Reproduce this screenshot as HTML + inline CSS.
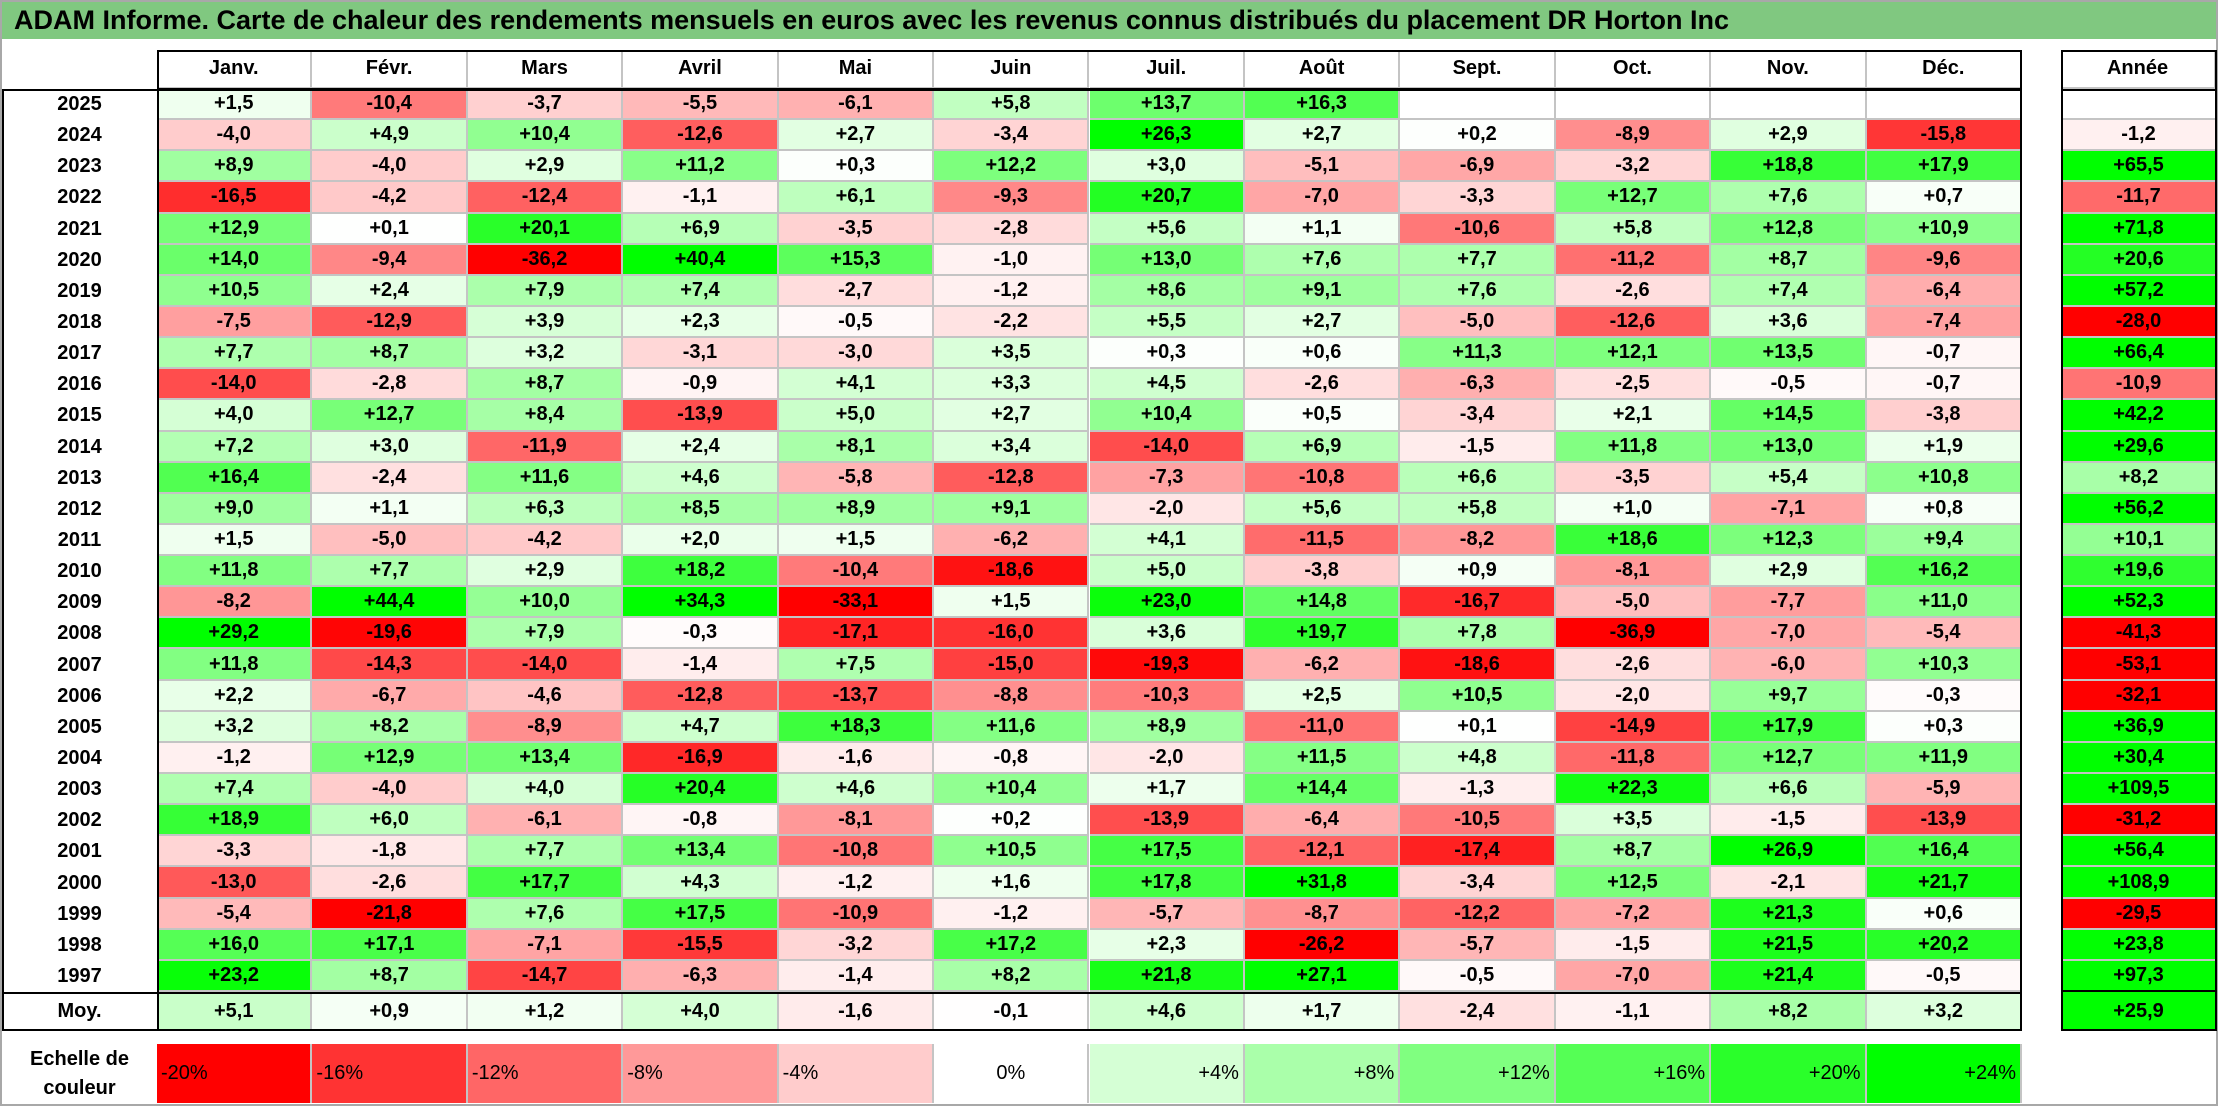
<!DOCTYPE html>
<html><head><meta charset="utf-8">
<style>
body{margin:0;background:#fff;}
#root{position:relative;width:2218px;height:1106px;overflow:hidden;background:#fff;font-family:"Liberation Sans",Arial,sans-serif;}
.c{position:absolute;box-sizing:border-box;display:flex;align-items:center;justify-content:center;font-weight:bold;font-size:20px;color:#000;border-right:2px solid #c4c4c4;border-bottom:2px solid #c4c4c4;}
.b{position:absolute;box-sizing:border-box;border:2px solid #000;pointer-events:none;}
</style></head><body>
<div id="root">
<div style="position:absolute;left:0;top:0;width:2218px;height:1106px;box-sizing:border-box;border:2px solid #a8a8a8;"></div>
<div style="position:absolute;left:2px;top:2px;width:2214px;height:37px;background:#80c880;display:flex;align-items:center;padding-left:12px;box-sizing:border-box;font-weight:bold;font-size:27px;white-space:nowrap;">ADAM Informe. Carte de chaleur des rendements mensuels en euros avec les revenus connus distribués du placement DR Horton Inc</div>
</div>
<script>
const months=["Janv.","Févr.","Mars","Avril","Mai","Juin","Juil.","Août","Sept.","Oct.","Nov.","Déc."];
const years=[2025,2024,2023,2022,2021,2020,2019,2018,2017,2016,2015,2014,2013,2012,2011,2010,2009,2008,2007,2006,2005,2004,2003,2002,2001,2000,1999,1998,1997];
const values=[
[1.5,-10.4,-3.7,-5.5,-6.1,5.8,13.7,16.3,null,null,null,null],
[-4.0,4.9,10.4,-12.6,2.7,-3.4,26.3,2.7,0.2,-8.9,2.9,-15.8],
[8.9,-4.0,2.9,11.2,0.3,12.2,3.0,-5.1,-6.9,-3.2,18.8,17.9],
[-16.5,-4.2,-12.4,-1.1,6.1,-9.3,20.7,-7.0,-3.3,12.7,7.6,0.7],
[12.9,0.1,20.1,6.9,-3.5,-2.8,5.6,1.1,-10.6,5.8,12.8,10.9],
[14.0,-9.4,-36.2,40.4,15.3,-1.0,13.0,7.6,7.7,-11.2,8.7,-9.6],
[10.5,2.4,7.9,7.4,-2.7,-1.2,8.6,9.1,7.6,-2.6,7.4,-6.4],
[-7.5,-12.9,3.9,2.3,-0.5,-2.2,5.5,2.7,-5.0,-12.6,3.6,-7.4],
[7.7,8.7,3.2,-3.1,-3.0,3.5,0.3,0.6,11.3,12.1,13.5,-0.7],
[-14.0,-2.8,8.7,-0.9,4.1,3.3,4.5,-2.6,-6.3,-2.5,-0.5,-0.7],
[4.0,12.7,8.4,-13.9,5.0,2.7,10.4,0.5,-3.4,2.1,14.5,-3.8],
[7.2,3.0,-11.9,2.4,8.1,3.4,-14.0,6.9,-1.5,11.8,13.0,1.9],
[16.4,-2.4,11.6,4.6,-5.8,-12.8,-7.3,-10.8,6.6,-3.5,5.4,10.8],
[9.0,1.1,6.3,8.5,8.9,9.1,-2.0,5.6,5.8,1.0,-7.1,0.8],
[1.5,-5.0,-4.2,2.0,1.5,-6.2,4.1,-11.5,-8.2,18.6,12.3,9.4],
[11.8,7.7,2.9,18.2,-10.4,-18.6,5.0,-3.8,0.9,-8.1,2.9,16.2],
[-8.2,44.4,10.0,34.3,-33.1,1.5,23.0,14.8,-16.7,-5.0,-7.7,11.0],
[29.2,-19.6,7.9,-0.3,-17.1,-16.0,3.6,19.7,7.8,-36.9,-7.0,-5.4],
[11.8,-14.3,-14.0,-1.4,7.5,-15.0,-19.3,-6.2,-18.6,-2.6,-6.0,10.3],
[2.2,-6.7,-4.6,-12.8,-13.7,-8.8,-10.3,2.5,10.5,-2.0,9.7,-0.3],
[3.2,8.2,-8.9,4.7,18.3,11.6,8.9,-11.0,0.1,-14.9,17.9,0.3],
[-1.2,12.9,13.4,-16.9,-1.6,-0.8,-2.0,11.5,4.8,-11.8,12.7,11.9],
[7.4,-4.0,4.0,20.4,4.6,10.4,1.7,14.4,-1.3,22.3,6.6,-5.9],
[18.9,6.0,-6.1,-0.8,-8.1,0.2,-13.9,-6.4,-10.5,3.5,-1.5,-13.9],
[-3.3,-1.8,7.7,13.4,-10.8,10.5,17.5,-12.1,-17.4,8.7,26.9,16.4],
[-13.0,-2.6,17.7,4.3,-1.2,1.6,17.8,31.8,-3.4,12.5,-2.1,21.7],
[-5.4,-21.8,7.6,17.5,-10.9,-1.2,-5.7,-8.7,-12.2,-7.2,21.3,0.6],
[16.0,17.1,-7.1,-15.5,-3.2,17.2,2.3,-26.2,-5.7,-1.5,21.5,20.2],
[23.2,8.7,-14.7,-6.3,-1.4,8.2,21.8,27.1,-0.5,-7.0,21.4,-0.5]];
const yearTotals=[null,-1.2,65.5,-11.7,71.8,20.6,57.2,-28.0,66.4,-10.9,42.2,29.6,8.2,56.2,10.1,19.6,52.3,-41.3,-53.1,-32.1,36.9,30.4,109.5,-31.2,56.4,108.9,-29.5,23.8,97.3];
const averages=[5.1,0.9,1.2,4.0,-1.6,-0.1,4.6,1.7,-2.4,-1.1,8.2,3.2];
const averageTotal=25.9;
const scaleSteps=[-20,-16,-12,-8,-4,0,4,8,12,16,20,24];

const root=document.getElementById('root');
const X0=157,CW=(2022-157)/12,HY=50,RY=89,RH=(992-89)/29,MOYH=39,AX=2061,AW=155;
function xOf(i){return X0+i*CW;}
function yOf(r){return RY+r*RH;}
function color(v){
  if(v===null)return '#fff';
  if(v<0){const t=Math.min(1,-v/20);const g=Math.round(255*(1-t));return `rgb(255,${g},${g})`;}
  const t=Math.min(1,v/24);const g=Math.round(255*(1-t));return `rgb(${g},255,${g})`;
}
function fmt(v){if(v===null)return '';return (v>=0?'+':'-')+Math.abs(v).toFixed(1).replace('.',',');}
function cell(x,y,w,h,txt,bg){
  const d=document.createElement('div');d.className='c';
  d.style.left=x+'px';d.style.top=y+'px';d.style.width=w+'px';d.style.height=h+'px';
  d.style.background=bg||'#fff';d.textContent=txt;root.appendChild(d);return d;
}
function box(x,y,w,h){const d=document.createElement('div');d.className='b';
  d.style.left=x+'px';d.style.top=y+'px';d.style.width=w+'px';d.style.height=h+'px';
  
  
  root.appendChild(d);}
months.forEach((m,i)=>{
  const d=cell(xOf(i),HY,CW,RY-HY,m,'#fff');
  
  
});
const ah=cell(AX,HY,AW,RY-HY,'Année','#fff');


years.forEach((y,r)=>{
  const yl=cell(2,yOf(r),X0-2,RH,String(y),'#fff');
  yl.style.borderRight='none';yl.style.borderBottom='none';
  
  
  values[r].forEach((v,i)=>{
    const d=cell(xOf(i),yOf(r),CW,RH,fmt(v),color(v));
    
    
  });
  const t=cell(AX,yOf(r),AW,RH,fmt(yearTotals[r]),color(yearTotals[r]));
  t.style.borderRight='none';
  
  
});
const yM=yOf(years.length);
const ml=cell(2,yM,X0-2,MOYH,'Moy.','#fff');ml.style.border='none';


averages.forEach((v,i)=>{
  const d=cell(xOf(i),yM,CW,MOYH,fmt(v),color(v));d.style.borderBottom='none';
  
  
});
const at=cell(AX,yM,AW,MOYH,fmt(averageTotal),color(averageTotal));at.style.border='none';


box(X0,HY,2022-X0,RY-HY+1);
box(2,RY,2022-2,yM+MOYH-RY);
box(X0,RY,2022-X0,yM+MOYH-RY);
box(2,yM,2022-2,MOYH);
box(AX,HY,AW+1,yM+MOYH-HY);
box(AX,RY,AW+1,yM-RY);
const sl=document.createElement('div');


sl.style.cssText='position:absolute;left:2px;top:1044px;width:155px;height:59px;display:flex;align-items:center;justify-content:center;text-align:center;font-weight:bold;font-size:20px;line-height:29px;';
sl.innerHTML='Echelle de<br>couleur';root.appendChild(sl);
scaleSteps.forEach((s,i)=>{
  const d=cell(xOf(i),1044,CW,59,(s>0?'+':'')+s+'%',color(s));
  d.style.fontWeight='normal';d.style.fontSize='20px';d.style.borderBottom='none';
  d.style.justifyContent=s<0?'flex-start':(s>0?'flex-end':'center');
  d.style.padding='0 4px';
  
  
});
</script>
</body></html>
